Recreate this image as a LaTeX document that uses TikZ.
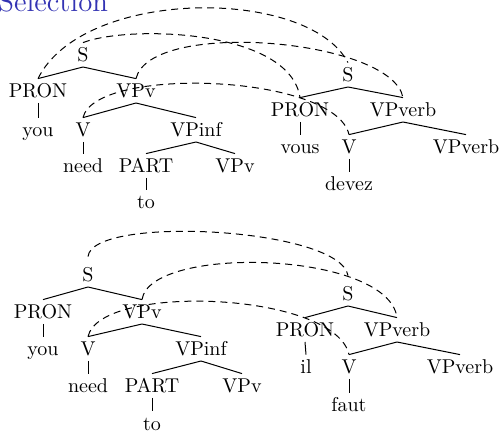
\documentclass[tikz,border=0pt]{standalone}
\usetikzlibrary{calc}
\definecolor{titleblue}{RGB}{51,51,179}
\begin{document}
\begin{tikzpicture}[x=0.5pt,y=-0.5pt,
  lab/.style={anchor=base, inner xsep=1pt, inner ysep=2.3pt, text height=7.2pt, text depth=0pt},
  edge/.style={line width=0.5pt},
  link/.style={dash pattern=on 3.5pt off 2.5pt, line width=0.5pt}]
\useasboundingbox (0,0) rectangle (503,432);
\clip (0,0) rectangle (503,432);
\node[anchor=base west, inner sep=0pt, font=\Large, text=titleblue] (title) at (-2,12) {Selection};
% top left tree
\node[lab] (tS) at (83,62) {S};
\node[lab] (tPRON) at (38,98) {PRON};
\node[lab] (tVPv) at (136,98) {VPv};
\node[lab] (tyou) at (38,137) {you};
\node[lab] (tV) at (83,137) {V};
\node[lab] (tVPinf) at (196,137) {VPinf};
\node[lab] (tneed) at (83,173) {need};
\node[lab] (tPART) at (146,173) {PART};
\node[lab] (tVPvb) at (235,173) {VPv};
\node[lab] (tto) at (146,209) {to};
\draw[edge] (tS.south) -- (tPRON.north);
\draw[edge] (tS.south) -- (tVPv.north);
\draw[edge] (tPRON.south) -- (tyou.north);
\draw[edge] (tVPv.south) -- (tV.north);
\draw[edge] (tVPv.south) -- (tVPinf.north);
\draw[edge] (tV.south) -- (tneed.north);
\draw[edge] (tVPinf.south) -- (tPART.north);
\draw[edge] (tVPinf.south) -- (tVPvb.north);
\draw[edge] (tPART.south) -- (tto.north);
% top right tree
\node[lab] (rS) at (348,82) {S};
\node[lab] (rPRON) at (300,117) {PRON};
\node[lab] (rVPverb) at (403,117) {VPverb};
\node[lab] (rvous) at (300,154) {vous};
\node[lab] (rV) at (349,154) {V};
\node[lab] (rVPverbb) at (466,154) {VPverb};
\node[lab] (rdevez) at (349,191) {devez};
\draw[edge] (rS.south) -- (rPRON.north);
\draw[edge] (rS.south) -- (rVPverb.north);
\draw[edge] (rPRON.south) -- (rvous.north);
\draw[edge] (rVPverb.south) -- (rV.north);
\draw[edge] (rVPverb.south) -- (rVPverbb.north);
\draw[edge] (rV.south) -- (rdevez.north);
% top links
\draw[link] (tPRON.north) .. controls +(45,-91) and +(-40,-76) .. (rS.north);
\draw[link] (tS.north) .. controls +(47,-18) and +(-10,-68) .. (rPRON.north);
\draw[link] (tVPv.north) .. controls +(14,-60) and +(-11,-59) .. (rVPverb.north);
\draw[link] (tV.north) .. controls +(12,-52) and +(-14,-61) .. (rV.north);
% bottom left tree
\node[lab] (bS) at (88,282) {S};
\node[lab] (bPRON) at (43,319) {PRON};
\node[lab] (bVPv) at (142,319) {VPv};
\node[lab] (byou) at (43,356) {you};
\node[lab] (bV) at (88,356) {V};
\node[lab] (bVPinf) at (201,356) {VPinf};
\node[lab] (bneed) at (88,393) {need};
\node[lab] (bPART) at (152,393) {PART};
\node[lab] (bVPvb) at (242,393) {VPv};
\node[lab] (bto) at (152,430) {to};
\draw[edge] (bS.south) -- (bPRON.north);
\draw[edge] (bS.south) -- (bVPv.north);
\draw[edge] (bPRON.south) -- (byou.north);
\draw[edge] (bVPv.south) -- (bV.north);
\draw[edge] (bVPv.south) -- (bVPinf.north);
\draw[edge] (bV.south) -- (bneed.north);
\draw[edge] (bVPinf.south) -- (bPART.north);
\draw[edge] (bVPinf.south) -- (bVPvb.north);
\draw[edge] (bPART.south) -- (bto.north);
% bottom right tree
\node[lab] (cS) at (348,301) {S};
\node[lab] (cPRON) at (305,337) {PRON};
\node[lab] (cVPverb) at (397,337) {VPverb};
\node[lab] (cil) at (306,374) {il};
\node[lab] (cV) at (349,374) {V};
\node[lab] (cVPverbb) at (460,374) {VPverb};
\node[lab] (cfaut) at (349,412) {faut};
\draw[edge] (cS.south) -- (cPRON.north);
\draw[edge] (cS.south) -- (cVPverb.north);
\draw[edge] (cPRON.south) -- (cil.north);
\draw[edge] (cVPverb.south) -- (cV.north);
\draw[edge] (cVPverb.south) -- (cVPverbb.north);
\draw[edge] (cV.south) -- (cfaut.north);
% bottom links
\draw[link] ([yshift=3pt]bS.north) .. controls +(4,-42) and +(-8,-48) .. ([yshift=3pt]cS.north);
\draw[link] (bVPv.north) .. controls +(8,-55) and +(-9,-67) .. (cVPverb.north);
\draw[link] (bV.north) .. controls +(12,-54) and +(-14,-63) .. (cV.north);
\end{tikzpicture}
\end{document}
